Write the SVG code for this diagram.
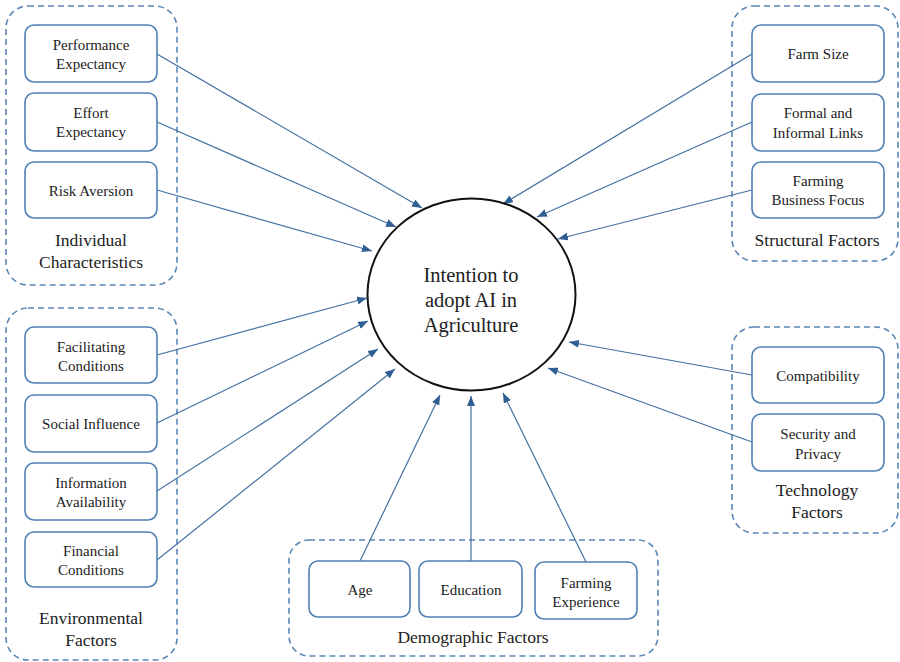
<svg xmlns="http://www.w3.org/2000/svg" width="900" height="662" viewBox="0 0 900 662">
  <style>
    .grp { fill: none; stroke: #5b87b6; stroke-width: 1.6; stroke-dasharray: 6 4; }
    .box { fill: #ffffff; stroke: #4f80b5; stroke-width: 1.6; }
    .t { font-family: "Liberation Serif", "Times New Roman", serif; font-size: 15px; fill: #222; text-anchor: middle; }
    .g { font-family: "Liberation Serif", "Times New Roman", serif; font-size: 17.5px; fill: #222; text-anchor: middle; }
    .c { font-family: "Liberation Serif", "Times New Roman", serif; font-size: 20.5px; fill: #222; text-anchor: middle; }
    .link { stroke: #4470a0; stroke-width: 1.2; fill: none; marker-end: url(#arrow); }
  </style>
  <defs>
    <marker id="arrow" viewBox="0 0 10 8" refX="10" refY="4" markerWidth="10" markerHeight="8" markerUnits="userSpaceOnUse" orient="auto">
      <path d="M0,0 L10,4 L0,8 Z" fill="#2f5f93"/>
    </marker>
  </defs>
  <rect width="900" height="662" fill="#ffffff"/>

  <!-- factor groups -->
  <g id="individual-characteristics">
    <rect class="grp" x="6" y="6" width="171" height="279" rx="22"/>
    <text class="g" x="91" y="246">Individual</text>
    <text class="g" x="91" y="268">Characteristics</text>
  </g>
  <g id="structural-factors">
    <rect class="grp" x="732" y="6" width="166" height="255" rx="22"/>
    <text class="g" x="817" y="246">Structural Factors</text>
  </g>
  <g id="environmental-factors">
    <rect class="grp" x="6" y="308" width="171" height="352" rx="22"/>
    <text class="g" x="91" y="624">Environmental</text>
    <text class="g" x="91" y="646">Factors</text>
  </g>
  <g id="technology-factors">
    <rect class="grp" x="732" y="327" width="166" height="206" rx="22"/>
    <text class="g" x="817" y="496">Technology</text>
    <text class="g" x="817" y="518">Factors</text>
  </g>
  <g id="demographic-factors">
    <rect class="grp" x="289" y="540" width="369" height="116" rx="20"/>
    <text class="g" x="473" y="643">Demographic Factors</text>
  </g>

  <!-- connectors -->
  <g id="connectors">
    <line class="link" x1="157" y1="54" x2="422" y2="208"/>
    <line class="link" x1="157" y1="122" x2="396" y2="227"/>
    <line class="link" x1="157" y1="190" x2="372" y2="251"/>
    <line class="link" x1="752" y1="54" x2="503" y2="204"/>
    <line class="link" x1="752" y1="122" x2="537" y2="217"/>
    <line class="link" x1="752" y1="190" x2="558" y2="239"/>
    <line class="link" x1="157" y1="355" x2="367" y2="298"/>
    <line class="link" x1="157" y1="423" x2="368" y2="321"/>
    <line class="link" x1="157" y1="491" x2="378" y2="349"/>
    <line class="link" x1="157" y1="560" x2="395" y2="369"/>
    <line class="link" x1="752" y1="375" x2="569" y2="342"/>
    <line class="link" x1="752" y1="442" x2="548" y2="368"/>
    <line class="link" x1="360" y1="561" x2="440" y2="395"/>
    <line class="link" x1="471" y1="561" x2="471" y2="396"/>
    <line class="link" x1="586" y1="562" x2="503" y2="393"/>
  </g>

  <!-- central construct -->
  <g id="intention">
    <ellipse cx="471.5" cy="294.5" rx="104" ry="96" fill="#ffffff" stroke="#111" stroke-width="2"/>
    <text class="c" x="471" y="282">Intention to</text>
    <text class="c" x="471" y="307">adopt AI in</text>
    <text class="c" x="471" y="332">Agriculture</text>
  </g>

  <!-- individual characteristics -->
  <g id="performance-expectancy">
    <rect class="box" x="25" y="25" width="132" height="57" rx="9"/>
    <text class="t" x="91" y="50">Performance</text>
    <text class="t" x="91" y="69">Expectancy</text>
  </g>
  <g id="effort-expectancy">
    <rect class="box" x="25" y="93" width="132" height="58" rx="9"/>
    <text class="t" x="91" y="118">Effort</text>
    <text class="t" x="91" y="137">Expectancy</text>
  </g>
  <g id="risk-aversion">
    <rect class="box" x="25" y="162" width="132" height="56" rx="9"/>
    <text class="t" x="91" y="196">Risk Aversion</text>
  </g>

  <!-- structural factors -->
  <g id="farm-size">
    <rect class="box" x="752" y="25" width="132" height="57" rx="9"/>
    <text class="t" x="818" y="59">Farm Size</text>
  </g>
  <g id="formal-informal-links">
    <rect class="box" x="752" y="94" width="132" height="57" rx="9"/>
    <text class="t" x="818" y="118">Formal and</text>
    <text class="t" x="818" y="138">Informal  Links</text>
  </g>
  <g id="farming-business-focus">
    <rect class="box" x="752" y="162" width="132" height="56" rx="9"/>
    <text class="t" x="818" y="186">Farming</text>
    <text class="t" x="818" y="205">Business Focus</text>
  </g>

  <!-- environmental factors -->
  <g id="facilitating-conditions">
    <rect class="box" x="25" y="327" width="132" height="56" rx="9"/>
    <text class="t" x="91" y="352">Facilitating</text>
    <text class="t" x="91" y="371">Conditions</text>
  </g>
  <g id="social-influence">
    <rect class="box" x="25" y="395" width="132" height="57" rx="9"/>
    <text class="t" x="91" y="429">Social Influence</text>
  </g>
  <g id="information-availability">
    <rect class="box" x="25" y="463" width="132" height="57" rx="9"/>
    <text class="t" x="91" y="488">Information</text>
    <text class="t" x="91" y="507">Availability</text>
  </g>
  <g id="financial-conditions">
    <rect class="box" x="25" y="532" width="132" height="55" rx="9"/>
    <text class="t" x="91" y="556">Financial</text>
    <text class="t" x="91" y="575">Conditions</text>
  </g>

  <!-- technology factors -->
  <g id="compatibility">
    <rect class="box" x="752" y="347" width="132" height="56" rx="9"/>
    <text class="t" x="818" y="381">Compatibility</text>
  </g>
  <g id="security-privacy">
    <rect class="box" x="752" y="414" width="132" height="57" rx="9"/>
    <text class="t" x="818" y="439">Security and</text>
    <text class="t" x="818" y="459">Privacy</text>
  </g>

  <!-- demographic factors -->
  <g id="age">
    <rect class="box" x="309" y="561" width="101" height="56" rx="9"/>
    <text class="t" x="360" y="595">Age</text>
  </g>
  <g id="education">
    <rect class="box" x="419" y="561" width="103" height="56" rx="9"/>
    <text class="t" x="471" y="595">Education</text>
  </g>
  <g id="farming-experience">
    <rect class="box" x="535" y="562" width="102" height="57" rx="9"/>
    <text class="t" x="586" y="588">Farming</text>
    <text class="t" x="586" y="607">Experience</text>
  </g>
</svg>
